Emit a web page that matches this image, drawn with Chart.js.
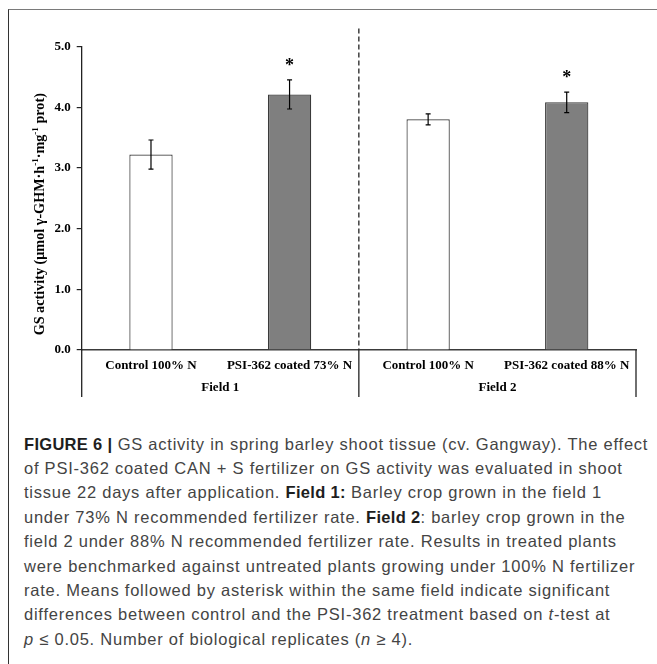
<!DOCTYPE html>
<html>
<head>
<meta charset="utf-8">
<script src="https://cdn.jsdelivr.net/npm/chart.js@4"></script>
<style>
    html, body { margin: 0; padding: 0; background: #fff; }
    #page { position: relative; width: 657px; height: 664px; overflow: hidden; }
    #frame { position: absolute; left: 8px; top: 9px; right: -4px; bottom: -4px;
             border-top: 1.5px solid #7a7a7a; border-left: 1.5px solid #333; }
    #wrap { position: absolute; left: 0; top: 0; width: 657px; height: 410px; }
    #caption { position: absolute; left: 24px; top: 431.5px; font-family: "Liberation Sans", Arial, sans-serif;
               font-size: 16.5px; line-height: 24.4px; letter-spacing: 0.76px; color: #444; white-space: nowrap; }
    #caption b { color: #1e1e1e; letter-spacing: 0.3px; }
</style>
</head>
<body>
<div id="page">
    <div id="frame"></div>
    <div id="wrap"><canvas id="gsChart"></canvas></div>
    <div id="caption">
        <b>FIGURE 6 |</b> GS activity in spring barley shoot tissue (cv. Gangway). The effect<br>
        of PSI-362 coated CAN + S fertilizer on GS activity was evaluated in shoot<br>
        tissue 22 days after application. <b>Field 1:</b> Barley crop grown in the field 1<br>
        under 73% N recommended fertilizer rate. <b>Field 2</b>: barley crop grown in the<br>
        field 2 under 88% N recommended fertilizer rate. Results in treated plants<br>
        were benchmarked against untreated plants growing under 100% N fertilizer<br>
        rate. Means followed by asterisk within the same field indicate significant<br>
        differences between control and the PSI-362 treatment based on <i>t</i>-test at<br>
        <i>p</i> ≤ 0.05. Number of biological replicates (<i>n</i> ≥ 4).
    </div>
</div>
<script>
// Data
const categories = ['Control 100% N', 'PSI-362 coated 73% N', 'Control 100% N', 'PSI-362 coated 88% N'];
const fields = ['Field 1', 'Field 2'];
const fieldOf = [0, 0, 1, 1];
const gsMeans = [3.22, 4.21, 3.80, 4.08];
const gsErrors = [0.24, 0.24, 0.09, 0.17];
const significant = [false, true, false, true];
const yTicks = [0, 1, 2, 3, 4, 5];

const serif = '"Liberation Serif", "Times New Roman", serif';
const barFill = ['#ffffff', '#7f7f7f', '#ffffff', '#7f7f7f'];

// error bars, asterisks, field separators and labels, axis title
const extras = {
    id: 'extras',
    afterDraw(chart) {
        const { ctx, chartArea, scales: { x, y } } = chart;
        ctx.save();

        // error bars + significance
        ctx.strokeStyle = '#000';
        ctx.lineWidth = 1.2;
        gsMeans.forEach((m, i) => {
            const cx = x.getPixelForValue(i);
            const top = y.getPixelForValue(m + gsErrors[i]);
            const bot = y.getPixelForValue(m - gsErrors[i]);
            ctx.beginPath();
            ctx.moveTo(cx, top); ctx.lineTo(cx, bot);
            ctx.moveTo(cx - 2.5, top); ctx.lineTo(cx + 2.5, top);
            ctx.moveTo(cx - 2.5, bot); ctx.lineTo(cx + 2.5, bot);
            ctx.stroke();
            if (significant[i]) {
                ctx.fillStyle = '#000';
                ctx.font = 'bold 18px ' + serif;
                ctx.textAlign = 'center';
                ctx.textBaseline = 'alphabetic';
                ctx.fillText('*', cx, top - 9);
            }
        });

        // field boxes under the axis
        const half = (x.getPixelForValue(1) - x.getPixelForValue(0)) / 2;
        const boxBottom = chartArea.bottom + 47;
        const edges = [x.getPixelForValue(0) - half];
        fields.forEach((f, g) => {
            const last = fieldOf.lastIndexOf(g);
            edges.push(x.getPixelForValue(last) + half);
        });
        ctx.strokeStyle = '#222';
        ctx.lineWidth = 1.3;
        edges.forEach(e => {
            ctx.beginPath();
            ctx.moveTo(e, chartArea.bottom);
            ctx.lineTo(e, boxBottom);
            ctx.stroke();
        });

        // dashed divider between fields
        ctx.setLineDash([5, 3]);
        ctx.beginPath();
        ctx.moveTo(edges[1], chartArea.top - 18);
        ctx.lineTo(edges[1], chartArea.bottom);
        ctx.stroke();
        ctx.setLineDash([]);

        ctx.fillStyle = '#000';
        ctx.font = 'bold 13px ' + serif;
        ctx.textAlign = 'center';
        ctx.textBaseline = 'middle';
        fields.forEach((f, g) => {
            ctx.fillText(f, (edges[g] + edges[g + 1]) / 2, chartArea.bottom + 38);
        });

        // y axis title with superscripts
        const parts = [
            ['GS activity (μmol γ-GHM·h', false], ['-1', true], ['·mg', false], ['-1', true], [' prot)', false]
        ];
        const main = 'bold 14.2px ' + serif;
        const sup = 'bold 9px ' + serif;
        let total = 0;
        parts.forEach(([t, s]) => { ctx.font = s ? sup : main; total += ctx.measureText(t).width; });
        ctx.translate(40, (chartArea.top + chartArea.bottom) / 2 + 16);
        ctx.rotate(-Math.PI / 2);
        ctx.textAlign = 'left';
        ctx.textBaseline = 'middle';
        let px = -total / 2;
        parts.forEach(([t, s]) => {
            ctx.font = s ? sup : main;
            ctx.fillText(t, px, s ? -4 : 0);
            px += ctx.measureText(t).width;
        });
        ctx.restore();
    }
};

new Chart(document.getElementById('gsChart'), {
    type: 'bar',
    data: {
        labels: categories,
        datasets: [{
            data: gsMeans,
            backgroundColor: barFill,
            borderColor: '#3a3a3a',
            borderWidth: 1.2,
            categoryPercentage: 1,
            barPercentage: 0.3125
        }]
    },
    options: {
        responsive: true,
        maintainAspectRatio: false,
        animation: false,
        layout: {
            padding: { left: 0, top: 46.5, right: 21, bottom: 0 }
        },
        plugins: {
            legend: { display: false },
            tooltip: { enabled: false }
        },
        scales: {
            x: {
                grid: { display: false, drawTicks: false },
                border: { display: true, color: '#3a3a3a', width: 1.5 },
                ticks: {
                    color: '#000',
                    padding: 8,
                    maxRotation: 0,
                    autoSkip: false,
                    font: { family: serif, size: 13, weight: 'bold' }
                },
                afterFit: (scale) => { scale.height = 60; }
            },
            y: {
                min: yTicks[0],
                max: yTicks[yTicks.length - 1],
                afterBuildTicks: (scale) => { scale.ticks = yTicks.map(v => ({ value: v })); },
                grid: { drawOnChartArea: false, drawTicks: true, tickLength: 5, color: '#222', lineWidth: 1.2 },
                border: { display: true, color: '#222', width: 1.3 },
                ticks: {
                    color: '#000',
                    padding: 6,
                    callback: (value) => value.toFixed(1),
                    font: { family: serif, size: 13, weight: 'bold' }
                },
                afterFit: (scale) => { scale.width = 81.7; }
            }
        }
    },
    plugins: [extras]
});
</script>
</body>
</html>
